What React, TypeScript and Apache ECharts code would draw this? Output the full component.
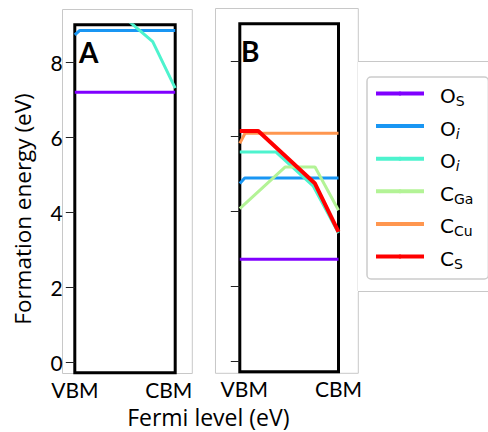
import React, { useEffect, useRef } from 'react';
import * as echarts from 'echarts';

// ---- data ----
const seriesNames = ['OS', 'Oi_1', 'Oi_2', 'CGa', 'CCu', 'CS'];
const seriesColors = ['#8000ff', '#1996f3', '#4df3ce', '#b3f396', '#ff964f', '#ff0000'];
const legendLabels = ['{m|O}{s|S}', '{m|O}{i|i}', '{m|O}{i|i}', '{m|C}{s|Ga}', '{m|C}{s|Cu}', '{m|C}{s|S}'];

const yTicks = [0, 2, 4, 6, 8];
const yMin = -0.28;
const yMax = 9.0;
const xTickLabels = ['VBM', 'CBM'];
const xTicksA = [0, 0.936];
const xTicksB = [0.045, 1];

// Panel A (x: fraction of the gap from VBM to CBM, y: formation energy in eV)
const A_OS = [[0, 7.2], [1, 7.2]];
const A_Oi1 = [[0, 8.73], [0.05, 8.85], [1, 8.85]];
const A_Oi2 = [[0, 9.3], [0.45, 9.3], [0.776, 8.55], [1, 7.31]];

// Panel B
const B_OS = [[0, 2.72], [1, 2.72]];
const B_Oi1 = [[0, 4.74], [0.05, 4.89], [1, 4.89]];
const B_Oi2 = [[0, 5.58], [0.367, 5.58], [0.745, 4.67], [1, 3.42]];
const B_CGa = [[0, 4.07], [0.458, 5.18], [0.762, 5.18], [1, 4.03]];
const B_CCu = [[0, 5.81], [0.053, 6.08], [1, 6.08]];
const B_CS = [[0, 6.14], [0.187, 6.14], [0.762, 4.74], [1, 3.45]];

const panelA = [A_OS, A_Oi1, A_Oi2];
const panelB = [B_OS, B_Oi1, B_Oi2, B_CGa, B_CCu, B_CS];

const lineWidths = [3, 3, 3, 3, 3, 4];

export default function App() {
  const ref = useRef<HTMLDivElement>(null);

  useEffect(() => {
    if (!ref.current) return;
    const chart = echarts.init(ref.current, undefined, { renderer: 'svg' });

    const mkSeries = (data: number[][], idx: number, axis: number) => ({
      type: 'line',
      name: seriesNames[idx],
      xAxisIndex: axis,
      yAxisIndex: axis,
      data,
      symbol: 'circle',
      symbolSize: 4,
      showSymbol: false,
      color: seriesColors[idx],
      lineStyle: { color: seriesColors[idx], width: lineWidths[idx] },
      itemStyle: { color: seriesColors[idx] },
      clip: true,
      silent: true,
    });

    const series: any[] = [];
    panelA.forEach((d, i) => series.push(mkSeries(d, i, 0)));
    panelB.forEach((d, i) => series.push(mkSeries(d, i, 1)));

    const xAxisBase = (ticks: number[], gi: number) => ({
      gridIndex: gi,
      type: 'value',
      min: 0,
      max: 1,
      axisLine: { show: false },
      axisTick: { show: false },
      splitLine: { show: false },
      axisLabel: {
        customValues: ticks,
        formatter: (v: number) => (Math.abs(v - ticks[0]) < 1e-9 ? xTickLabels[0] : xTickLabels[1]),
        fontSize: 21,
        fontFamily: 'Lato',
        color: '#000',
        margin: 6,
      },
    });

    const yAxisBase = (gi: number, showLabels: boolean) => ({
      gridIndex: gi,
      type: 'value',
      min: yMin,
      max: yMax,
      axisLine: { show: false },
      axisTick: {
        show: true,
        customValues: yTicks,
        length: 9,
        lineStyle: { color: '#222', width: 1 },
      },
      axisLabel: {
        show: showLabels,
        customValues: yTicks,
        fontSize: 21,
        fontFamily: 'Lato',
        color: '#000',
        margin: 12,
      },
      splitLine: { show: false },
    });

    const gray = '#c8c8c8';

    chart.setOption({
      animation: false,
      backgroundColor: '#fff',
      grid: [
        { left: 74.8, top: 24.8, width: 100.4, height: 348, show: true, borderColor: '#000', borderWidth: 3, backgroundColor: 'transparent' },
        { left: 239.8, top: 23.8, width: 98.7, height: 348, show: true, borderColor: '#000', borderWidth: 3, backgroundColor: 'transparent' },
      ],
      xAxis: [xAxisBase(xTicksA, 0), xAxisBase(xTicksB, 1)],
      yAxis: [yAxisBase(0, true), yAxisBase(1, false)],
      legend: {
        orient: 'vertical',
        left: 367,
        top: 77,
        padding: [9, 15, 8, 7],
        itemWidth: 48,
        itemHeight: 5,
        itemGap: 10.6,
        borderColor: '#cccccc',
        borderWidth: 1.5,
        borderRadius: 4,
        backgroundColor: '#fff',
        data: seriesNames,
        selectedMode: false,
        formatter: (name: string) => legendLabels[seriesNames.indexOf(name)],
        lineStyle: { width: 4 },
        textStyle: {
          color: '#000',
          fontFamily: 'DejaVu Sans',
          fontSize: 20,
          padding: [5, 0, 0, 11],
          rich: {
            m: { fontSize: 20, fontFamily: 'DejaVu Sans', lineHeight: 24, verticalAlign: 'middle', color: '#000' },
            s: { fontSize: 14, fontFamily: 'DejaVu Sans', lineHeight: 16, verticalAlign: 'bottom', color: '#000' },
            i: { fontSize: 14, fontFamily: 'DejaVu Sans', fontStyle: 'italic', lineHeight: 16, verticalAlign: 'bottom', color: '#000' },
          },
        },
      },
      graphic: [
        { type: 'rect', silent: true, z: -10, shape: { x: 62.5, y: 9.5, width: 129.8, height: 364 }, style: { fill: 'none', stroke: gray, lineWidth: 1 } },
        { type: 'rect', silent: true, z: -10, shape: { x: 215.5, y: 8.5, width: 142.8, height: 364.8 }, style: { fill: 'none', stroke: gray, lineWidth: 1 } },
        { type: 'rect', silent: true, z: -9, shape: { x: 357, y: 62, width: 140, height: 230 }, style: { fill: '#fff', stroke: 'none' } },
        { type: 'line', silent: true, z: -8, shape: { x1: 358, y1: 61.5, x2: 490, y2: 61.5 }, style: { stroke: gray, lineWidth: 1 } },
        { type: 'line', silent: true, z: -8, shape: { x1: 358, y1: 291.5, x2: 490, y2: 291.5 }, style: { stroke: gray, lineWidth: 1 } },
        { type: 'line', silent: true, z: -8, shape: { x1: 357.5, y1: 62, x2: 357.5, y2: 291 }, style: { stroke: '#ececec', lineWidth: 1 } },
        { type: 'text', silent: true, x: 79, y: 51.5, style: { text: 'A', fontSize: 28, fontWeight: 'bold', fontFamily: 'Lato', fill: '#000', align: 'left', verticalAlign: 'middle' } },
        { type: 'text', silent: true, x: 241, y: 51, style: { text: 'B', fontSize: 28, fontWeight: 'bold', fontFamily: 'Lato', fill: '#000', align: 'left', verticalAlign: 'middle' } },
        { type: 'text', silent: true, x: 22, y: 209, rotation: Math.PI / 2, style: { text: 'Formation energy (eV)', fontSize: 22.5, fontFamily: 'Open Sans', fill: '#000', align: 'center', verticalAlign: 'middle' } },
        { type: 'text', silent: true, x: 208.3, y: 417, style: { text: 'Fermi level (eV)', fontSize: 23, fontFamily: 'Open Sans', fill: '#000', align: 'center', verticalAlign: 'middle' } },
      ],
      series,
    });

    return () => {
      chart.dispose();
    };
  }, []);

  return <div ref={ref} style={{ position: 'absolute', left: 0, top: 0, width: 488, height: 432 }} />;
}
